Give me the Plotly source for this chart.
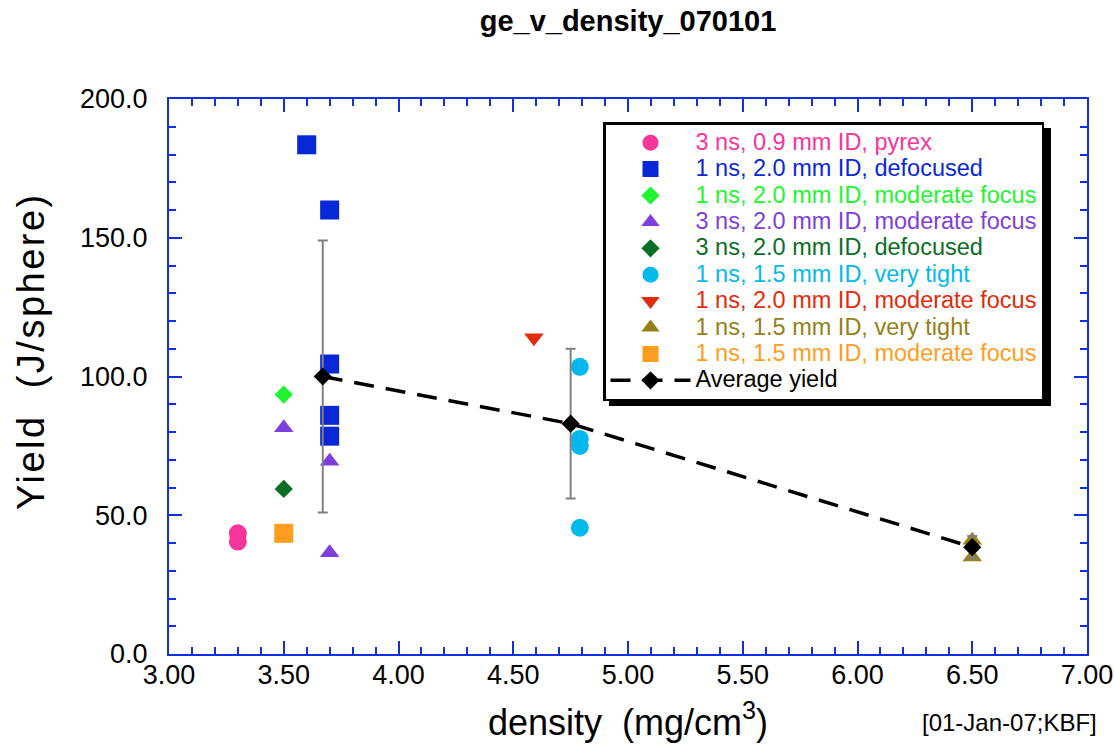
import plotly.graph_objects as go

# ---- data ----
pyrex_x = [3.30, 3.30]
pyrex_y = [43.5, 40.5]
defoc1_x = [3.60, 3.70, 3.70, 3.70, 3.70]
defoc1_y = [183.5, 160.0, 104.5, 86.0, 78.5]
modf1_x = [3.50]
modf1_y = [93.5]
modf3_x = [3.50, 3.70, 3.70]
modf3_y = [81.5, 69.5, 36.5]
defoc3_x = [3.50]
defoc3_y = [59.5]
tight_x = [4.79, 4.79, 4.79, 4.79]
tight_y = [103.5, 77.5, 75.0, 45.5]
modf1b_x = [4.59]
modf1b_y = [114.0]
tight2_x = [6.50, 6.50]
tight2_y = [41.0, 35.0]
modf15_x = [3.50]
modf15_y = [43.5]
avg_x = [3.67, 4.75, 6.50]
avg_y = [100.0, 83.0, 38.5]
avg_err = [49.0, 27.0, 4.0]

x_ticks = [3.0, 3.5, 4.0, 4.5, 5.0, 5.5, 6.0, 6.5, 7.0]
y_ticks = [0, 50, 100, 150, 200]

series = [
    ("3 ns, 0.9 mm ID, pyrex", pyrex_x, pyrex_y, "circle", "#f5359a", 18),
    ("1 ns, 2.0 mm ID, defocused", defoc1_x, defoc1_y, "square", "#0828d8", 19),
    ("1 ns, 2.0 mm ID, moderate focus", modf1_x, modf1_y, "diamond", "#1ef52f", 14),
    ("3 ns, 2.0 mm ID, moderate focus", modf3_x, modf3_y, "triangle-up", "#7f3fdc", 17),
    ("3 ns, 2.0 mm ID, defocused", defoc3_x, defoc3_y, "diamond", "#0a6e23", 14),
    ("1 ns, 1.5 mm ID, very tight", tight_x, tight_y, "circle", "#03b8ec", 18),
    ("1 ns, 2.0 mm ID, moderate focus", modf1b_x, modf1b_y, "triangle-down", "#e22b0a", 17),
    ("1 ns, 1.5 mm ID, very tight", tight2_x, tight2_y, "triangle-up", "#948118", 17),
    ("1 ns, 1.5 mm ID, moderate focus", modf15_x, modf15_y, "square", "#ff9d1e", 19),
]

FONT = "Liberation Sans, Arial, Helvetica, sans-serif"
AXC = "#1030e0"
LEG_TXT = "font-size:23.5px"

fig = go.Figure()
for name, xs, ys, sym, col, sz in series:
    fig.add_trace(go.Scatter(
        x=xs, y=ys, mode="markers",
        name=f"<span style='color:{col};{LEG_TXT}'>{name}</span>",
        marker=dict(symbol=sym, color=col, size=sz, line=dict(width=0)),
    ))

fig.add_trace(go.Scatter(
    x=avg_x, y=avg_y, mode="lines+markers",
    name=f"<span style='color:black;{LEG_TXT}'>Average yield</span>",
    line=dict(color="black", width=3.5, dash="20px,12px"),
    marker=dict(symbol="diamond", color="black", size=14),
    error_y=dict(type="data", array=avg_err, visible=True,
                 color="#808080", thickness=2, width=5),
))

# plot area in pixels: x 169..1087, y 99..654
L, R, T, B = 169, 1087, 99, 654

def px2x(p):
    return (p - L) / float(R - L)

def py2y(p):
    return (B - p) / float(B - T)

# legend drop shadow
fig.add_shape(type="rect", xref="paper", yref="paper",
              x0=px2x(609), x1=px2x(1051), y0=py2y(406), y1=py2y(128),
              fillcolor="black", line=dict(width=0), layer="above")

fig.add_annotation(text="[01-Jan-07;KBF]", xref="paper", yref="paper",
                   x=px2x(1009), y=py2y(722), showarrow=False,
                   xanchor="center", yanchor="middle",
                   font=dict(size=24, color="black", family=FONT))

# y-axis title (rotated text, slightly above the plot centre like the reference)
fig.add_annotation(text="<span style='letter-spacing:2.5px'>Yield  (J/sphere)</span>",
                   xref="paper", yref="paper", x=px2x(31), y=py2y(351),
                   showarrow=False, textangle=-90, xanchor="center", yanchor="middle",
                   font=dict(size=38, color="black", family=FONT))

fig.update_layout(
    width=1114, height=751,
    margin=dict(l=L, r=1114 - R, t=T, b=751 - B, autoexpand=False),
    paper_bgcolor="white", plot_bgcolor="white",
    font=dict(family=FONT, color="black"),
    title=dict(text="<b>ge_v_density_070101</b>", x=px2x(628), xref="paper",
               xanchor="center", y=1 - 21 / 751, yanchor="middle",
               font=dict(size=29, family=FONT, color="black")),
    showlegend=True,
    legend=dict(x=px2x(603), y=py2y(122), xanchor="left", yanchor="top",
                bgcolor="white", bordercolor="black", borderwidth=2.5,
                font=dict(size=18, family=FONT, color="black"),
                itemwidth=80, traceorder="normal"),
)

fig.update_xaxes(
    range=[3.0, 7.0], tickvals=x_ticks, ticktext=[f"{v:.2f}" for v in x_ticks],
    showgrid=False, zeroline=False, showline=True, linecolor=AXC, linewidth=2,
    mirror="allticks", ticks="inside", ticklen=13, tickwidth=1.5, tickcolor=AXC,
    minor=dict(dtick=0.1, ticks="inside", ticklen=7, tickwidth=1.5, tickcolor=AXC),
    tickfont=dict(size=27, family=FONT, color="black"),
    ticklabelstandoff=-4, ticklabeloverflow="allow", automargin=False,
    title=dict(text="density  (mg/cm<sup>3</sup>)", standoff=20,
               font=dict(size=36, family=FONT, color="black")),
)
fig.update_yaxes(
    range=[0, 200], tickvals=y_ticks, ticktext=[f"{v:.1f}" for v in y_ticks],
    showgrid=False, zeroline=False, showline=True, linecolor=AXC, linewidth=2,
    mirror="allticks", ticks="inside", ticklen=13, tickwidth=1.5, tickcolor=AXC,
    minor=dict(dtick=10, ticks="inside", ticklen=7, tickwidth=1.5, tickcolor=AXC),
    tickfont=dict(size=27, family=FONT, color="black"),
    ticklabelstandoff=14, ticklabeloverflow="allow", automargin=False,
)

fig.write_html("out.html")
